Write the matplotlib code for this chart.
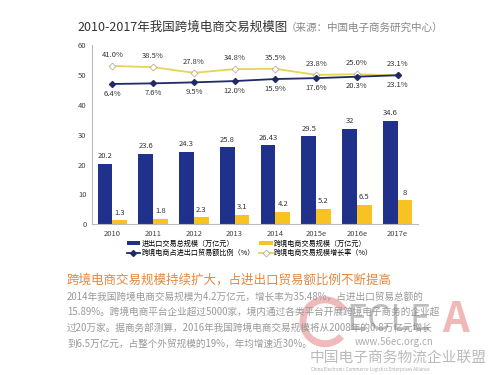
import numpy as np
import matplotlib.pyplot as plt
from matplotlib.patches import Arc

plt.rcParams['font.family'] = ['Noto Sans CJK SC', 'DejaVu Sans']

# 数据
years = ["2010", "2011", "2012", "2013", "2014", "2015e", "2016e", "2017e"]
total_trade = [20.2, 23.6, 24.3, 25.8, 26.43, 29.5, 32, 34.6]
ecom_trade = [1.3, 1.8, 2.3, 3.1, 4.2, 5.2, 6.5, 8]
ecom_share = [6.4, 7.6, 9.5, 12.0, 15.9, 17.6, 20.3, 23.1]
ecom_growth = [41.0, 38.5, 27.8, 34.8, 35.5, 23.8, 25.0, 23.1]

total_labels = ["20.2", "23.6", "24.3", "25.8", "26.43", "29.5", "32", "34.6"]
ecom_labels = ["1.3", "1.8", "2.3", "3.1", "4.2", "5.2", "6.5", "8"]

c_blue = '#1f318a'
c_yellow = '#f7c222'
c_line_y = '#e8d35a'
c_line_b = '#1f2a66'

fig = plt.figure(figsize=(5, 3.75), dpi=100)
fig.patch.set_facecolor('white')
ax = fig.add_axes([0.184, 0.402, 0.652, 0.478])

x = np.arange(len(years))
w = 0.36
ax.bar(x - w / 2, total_trade, w, color=c_blue, label='进出口交易总规模（万亿元）')
ax.bar(x + w / 2, ecom_trade, w, color=c_yellow, label='跨境电商交易规模（万亿元）')

for i in range(len(years)):
    ax.text(x[i] - w / 2, total_trade[i] + 1.2, total_labels[i], ha='center', va='bottom',
            fontsize=5.5, color='#333333')
    ax.text(x[i] + w / 2, ecom_trade[i] + 1.2, ecom_labels[i], ha='center', va='bottom',
            fontsize=5.5, color='#333333')

ax.set_xlim(-0.5, 7.5)
ax.set_ylim(0, 60)
ax.set_yticks(np.arange(0, 61, 10))
ax.set_xticks(x)
ax.set_xticklabels(years)
ax.tick_params(axis='both', length=0, labelsize=5.5, labelcolor='#444444', pad=4)
for s in ['top', 'right']:
    ax.spines[s].set_visible(False)
for s in ['left', 'bottom']:
    ax.spines[s].set_color('#bbbbbb')
    ax.spines[s].set_linewidth(0.8)

# 折线放在隐藏的次坐标轴上
ax2 = ax.twinx()
ax2.set_ylim(-262, 81)
ax2.axis('off')
ax2.plot(x, ecom_growth, color=c_line_y, lw=1.3, marker='D', ms=3.5,
         mfc='white', mec='#b8b08a', mew=0.6, label='跨境电商交易规模增长率（%）')
ax2.plot(x, ecom_share, color=c_line_b, lw=1.3, marker='D', ms=3,
         mfc=c_line_b, mec=c_line_b, label='跨境电商占进出口贸易额比例（%）')
for i in range(len(years)):
    ax2.annotate(f'{ecom_growth[i]:.1f}%', (x[i], ecom_growth[i]), xytext=(0, 5),
                 textcoords='offset points', ha='center', va='bottom', fontsize=5.5,
                 color='#333333')
    ax2.annotate(f'{ecom_share[i]:.1f}%', (x[i], ecom_share[i]), xytext=(0, -4),
                 textcoords='offset points', ha='center', va='top', fontsize=5.5,
                 color='#333333')

h1, l1 = ax.get_legend_handles_labels()
h2, l2 = ax2.get_legend_handles_labels()
handles = [h1[0], h2[1], h1[1], h2[0]]
labels = [l1[0], l2[1], l1[1], l2[0]]
fig.legend(handles, labels, ncol=2, loc='center', bbox_to_anchor=(0.5, 0.338),
           frameon=False, fontsize=5.1, handlelength=1.9, handleheight=0.5,
           columnspacing=0.6, labelspacing=0.15, numpoints=1, handletextpad=0.2,
           borderpad=0.2)

# 标题
fig.text(0.154, 0.928, '2010-2017年我国跨境电商交易规模图', fontsize=9, color='#333333',
         ha='left', va='center')
fig.text(0.572, 0.926, '（来源：中国电子商务研究中心）', fontsize=7.6, color='#888888',
         ha='left', va='center')

# 下方文字
fig.text(0.134, 0.253, '跨境电商交易规模持续扩大，占进出口贸易额比例不断提高', fontsize=9,
         color='#e5873f', ha='left', va='center')
para = [
    '2014年我国跨境电商交易规模为4.2万亿元，增长率为35.48%，占进出口贸易总额的',
    '15.89%。跨境电商平台企业超过5000家，境内通过各类平台开展跨境电子商务的企业超',
    '过20万家。据商务部测算，2016年我国跨境电商交易规模将从2008年的0.8万亿元增长',
    '到6.5万亿元，占整个外贸规模的19%，年均增速近30%。',
]
for k, line in enumerate(para):
    fig.text(0.134, 0.209 - k * 0.0415, line, fontsize=6.95, color='#999999',
             ha='left', va='center')

# 水印
fig.patches.append(Arc((0.65, 0.142), 0.088, 0.117, theta1=40, theta2=310,
                       transform=fig.transFigure, color='#e98d8d', lw=5, alpha=0.6))
fig.text(0.692, 0.148, 'ECLE', fontsize=26, color='#8a8a8a', alpha=0.55,
         ha='left', va='center')
fig.text(0.885, 0.148, 'A', fontsize=30, color='#e88a8a', alpha=0.6,
         ha='left', va='center', fontweight='bold', fontstyle='italic')
fig.text(0.71, 0.088, 'www.56ec.org.cn', fontsize=7, color='#999999', alpha=0.8,
         ha='left', va='center')
fig.text(0.62, 0.047, '中国电子商务物流企业联盟', fontsize=10.6, color='#aaaaaa', alpha=0.8,
         ha='left', va='center')
fig.text(0.622, 0.014, 'China Electronic Commerce Logistics Enterprises Alliance',
         fontsize=3.2, color='#aaaaaa', ha='left', va='center')

fig.savefig('out.png', dpi=100, facecolor='white')
